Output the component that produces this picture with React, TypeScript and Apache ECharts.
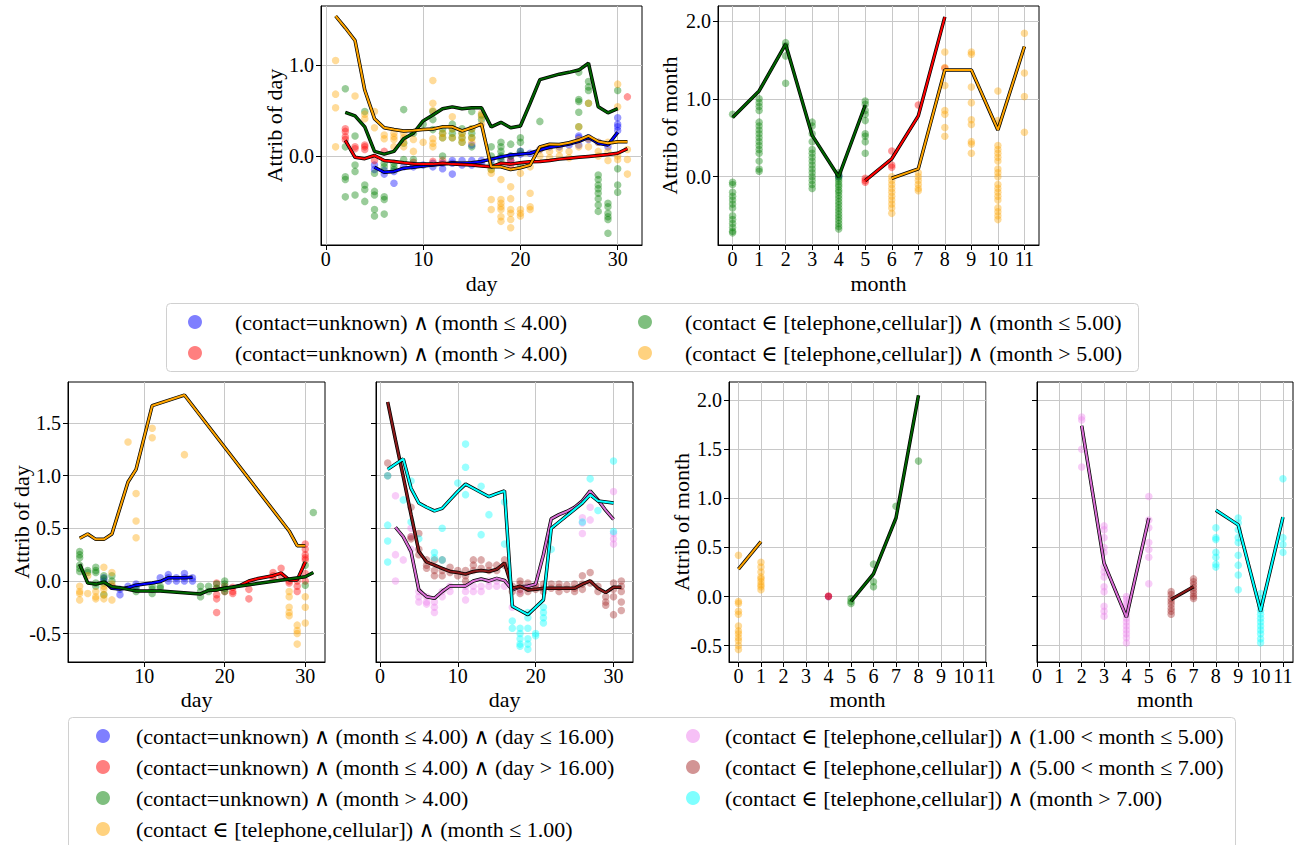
import React, { useEffect, useRef } from 'react';
import * as echarts from 'echarts';

const FONT = '"Liberation Serif", "DejaVu Serif", serif';

// ---------- legend labels ----------
const topNames = [
  '(contact=unknown) ∧ (month ≤ 4.00)',
  '(contact=unknown) ∧ (month > 4.00)',
  '(contact ∈ [telephone,cellular]) ∧ (month ≤ 5.00)',
  '(contact ∈ [telephone,cellular]) ∧ (month > 5.00)',
];
const botNames = [
  '(contact=unknown) ∧ (month ≤ 4.00) ∧ (day ≤ 16.00)',
  '(contact=unknown) ∧ (month ≤ 4.00) ∧ (day > 16.00)',
  '(contact=unknown) ∧ (month > 4.00)',
  '(contact ∈ [telephone,cellular]) ∧ (month ≤ 1.00)',
  '(contact ∈ [telephone,cellular]) ∧ (1.00 < month ≤ 5.00)',
  '(contact ∈ [telephone,cellular]) ∧ (5.00 < month ≤ 7.00)',
  '(contact ∈ [telephone,cellular]) ∧ (month > 7.00)',
];

// ---------- tick values ----------
const dayTicksA = [0, 10, 20, 30];
const dayTicksB = [10, 20, 30];
const monthTicks = [0, 1, 2, 3, 4, 5, 6, 7, 8, 9, 10, 11];
const yTicksTL = [0, 1];
const yTicksTR = [0, 1, 2];
const yTicksBL = [-0.5, 0, 0.5, 1, 1.5];
const yTicksBR = [-0.5, 0, 0.5, 1, 1.5, 2];

type Pts = [number, number[]][];
type Curve = [number, number][];

// ---------- plot 1 : top-left (day) ----------
const p1BluePts: Pts = [[5,[-0.1,-0.15]],[6,[-0.16,-0.2]],[7,[-0.3,-0.17]],[8,[-0.12]],[9,[-0.12,-0.1]],[10,[-0.1]],[11,[-0.08,-0.12]],[12,[-0.14,-0.08]],[13,[-0.05,-0.2,-0.08]],[14,[-0.1,-0.05]],[15,[-0.1,-0.05,0.12]],[16,[-0.05,-0.08]],[17,[-0.05]],[18,[-0.02]],[19,[0.0,-0.05]],[20,[0.05,0.02]],[21,[0.03]],[22,[0.07]],[23,[0.1]],[24,[0.1]],[25,[0.12]],[26,[0.22,0.2,0.12]],[27,[0.2,0.18]],[28,[0.15]],[29,[0.1]],[30,[0.42,0.35,0.32,0.28]]];
const p1BlueLine: Curve = [[5,-0.125],[6,-0.18],[7,-0.17],[8,-0.135],[9,-0.125],[10,-0.11],[11,-0.1],[12,-0.09],[13,-0.075],[14,-0.08],[15,-0.075],[16,-0.06],[17,-0.035],[18,-0.01],[19,0.01],[20,0.02],[21,0.03],[22,0.065],[23,0.095],[24,0.11],[25,0.13],[26,0.16],[27,0.205],[28,0.14],[29,0.12],[30,0.26]];
const p1RedPts: Pts = [[2,[0.3,0.27,0.21,0.18]],[3,[0.1,0.08]],[4,[0.12,0.1,0.07]],[5,[-0.05]],[6,[0.05]],[9,[-0.07]],[11,[-0.06]],[12,[-0.05]],[19,[-0.05,-0.1]],[31,[0.65]]];
const p1RedLine: Curve = [[2,0.17],[3,-0.015],[4,-0.03],[5,0.005],[6,-0.05],[7,-0.06],[8,-0.075],[9,-0.085],[10,-0.09],[11,-0.09],[12,-0.08],[13,-0.09],[14,-0.095],[15,-0.1],[16,-0.11],[17,-0.12],[18,-0.08],[19,-0.09],[20,-0.075],[21,-0.065],[22,-0.06],[23,-0.05],[24,-0.035],[25,-0.025],[26,-0.015],[27,-0.005],[28,0.005],[29,0.015],[30,0.03],[31,0.08]];
const p1GreenPts: Pts = [[2,[0.74,0.1,-0.23,-0.26,-0.45]],[3,[0.22,-0.1,-0.17,-0.43]],[4,[0.49,-0.32,-0.37,-0.5]],[5,[-0.19,-0.39,-0.43,-0.59,-0.66]],[6,[-0.08,-0.12,-0.45,-0.48,-0.64]],[7,[-0.08,-0.12,-0.15]],[8,[0.51,0.14,-0.04]],[9,[0.25,-0.04]],[10,[0.35]],[11,[0.49,0.4,0.29]],[12,[0.3,0.25,0.2,0.0]],[13,[0.35,0.3,0.25,0.2]],[14,[0.3,0.25,0.2,0.15]],[15,[0.49,0.3,0.25,0.2,0.1]],[16,[0.45,0.4]],[17,[0.1,0.0,-0.1,-0.15]],[18,[0.15,0.1,0.05,0.0,-0.05]],[19,[0.13,0.0]],[20,[0.2,0.15,0.05,-0.1]],[22,[0.38]],[26,[0.92,0.62,0.6,0.48,0.32]],[27,[0.82,0.76,0.72,0.58]],[28,[-0.21,-0.26,-0.32,-0.36,-0.41,-0.47,-0.54,-0.61]],[29,[-0.52,-0.56,-0.63,-0.67,-0.7,-0.85]],[30,[0.72,-0.14,-0.32,-0.4]]];
const p1GreenLine: Curve = [[2,0.48],[3,0.44],[4,0.32],[5,0.05],[6,0.02],[7,0.05],[8,0.19],[9,0.25],[10,0.385],[11,0.45],[12,0.52],[13,0.54],[14,0.52],[15,0.53],[16,0.53],[17,0.32],[18,0.37],[19,0.31],[20,0.33],[21,0.58],[22,0.84],[23,0.87],[24,0.9],[25,0.92],[26,0.945],[27,1.02],[28,0.54],[29,0.475],[30,0.52]];
const p1OrangePts: Pts = [[1,[1.05,0.68,0.53,0.1]],[3,[0.66]],[4,[0.46,0.41]],[5,[0.49,0.31]],[6,[0.23,0.19]],[7,[0.25,0.21,0.18,0.1]],[8,[0.25,0.2,0.15,0.1]],[9,[0.18,0.05]],[10,[0.15]],[11,[0.83,0.58,0.5,0.19,0.14,0.1]],[12,[0.25,0.2]],[13,[0.43,0.3,0.2]],[14,[0.25,0.2,0.15]],[15,[0.3,0.2,0.15]],[16,[0.47,0.43,0.35]],[17,[-0.15,-0.19,-0.48,-0.59]],[18,[-0.26,-0.48,-0.52,-0.56,-0.59,-0.67,-0.72]],[19,[-0.34,-0.47,-0.59,-0.63,-0.7,-0.79]],[20,[-0.19,-0.59,-0.63,-0.66]],[21,[-0.12,-0.41,-0.56,-0.59]],[22,[0.07,0.0]],[23,[0.05,-0.02]],[24,[0.07,0.0]],[25,[0.05,-0.02]],[26,[0.32,0.18,0.1]],[27,[0.58,0.19,0.1]],[28,[0.15,0.05,0.0]],[29,[0.15,0.05,-0.05]],[30,[0.79,0.54,0.0,-0.04]],[31,[0.07,-0.04,-0.2]]];
const p1OrangeLine: Curve = [[1,1.54],[2,1.41],[3,1.27],[4,0.725],[5,0.41],[6,0.31],[7,0.29],[8,0.275],[9,0.28],[10,0.29],[11,0.297],[12,0.32],[13,0.32],[14,0.275],[15,0.31],[16,0.35],[17,-0.12],[18,-0.12],[19,-0.15],[20,-0.13],[21,-0.1],[22,0.1],[23,0.13],[24,0.125],[25,0.145],[26,0.175],[27,0.22],[28,0.16],[29,0.14],[30,0.155],[31,0.155]];

// ---------- plot 2 : top-right (month) ----------
const p2BluePts: Pts = [[4,[0.0,0.02]]];
const p2BlueLine: Curve = [[4,0.0]];
const p2RedPts: Pts = [[5,[-0.02,-0.05,-0.07]],[6,[0.33,0.15,0.12]],[7,[0.92]],[8,[1.39]]];
const p2RedLine: Curve = [[5,-0.05],[6,0.23],[7,0.78],[8,2.05]];
const p2GreenPts: Pts = [[0,[0.8,-0.07,-0.1,-0.2,-0.25,-0.3,-0.35,-0.4,-0.5,-0.55,-0.6,-0.65,-0.7,-0.72]],[1,[1.0,0.95,0.9,0.85,0.7,0.65,0.6,0.55,0.5,0.45,0.4,0.35,0.3,0.2,0.1,0.07]],[2,[1.72,1.68,1.55,1.2]],[3,[0.7,0.65,0.55,0.45,0.35,0.3,0.25,0.2,0.15,0.1,0.05,0.0,-0.05,-0.1,-0.15]],[4,[0.05,0.02,0.0,-0.03,-0.06,-0.1,-0.13,-0.17,-0.2,-0.24,-0.28,-0.32,-0.36,-0.4,-0.44,-0.48,-0.52,-0.56,-0.6,-0.64,-0.67]],[5,[0.97,0.93,0.85,0.8,0.72,0.55,0.52,0.45,0.3]]];
const p2GreenLine: Curve = [[0,0.76],[1,1.1],[2,1.7],[3,0.53],[4,0.0],[5,0.92]];
const p2OrangePts: Pts = [[6,[0.0,-0.05,-0.1,-0.15,-0.2,-0.25,-0.3,-0.35,-0.4,-0.47]],[7,[0.05,0.0,-0.05,-0.1,-0.15,-0.18]],[8,[1.6,1.4,1.17,0.85,0.8,0.63,0.52]],[9,[1.6,1.57,1.15,0.95,0.73,0.67,0.45,0.42,0.3]],[10,[1.1,0.72,0.68,0.4,0.35,0.3,0.25,0.2,0.1,0.05,0.0,-0.1,-0.15,-0.2,-0.25,-0.3,-0.4,-0.45,-0.5,-0.55]],[11,[1.84,1.33,1.03,0.57]]];
const p2OrangeLine: Curve = [[6,-0.02],[7,0.1],[8,1.37],[9,1.37],[10,0.6],[11,1.67]];

// ---------- plot 3 : bottom, day (unknown groups + month<=1) ----------
const p3BluePts: Pts = [[5,[0.03,0.0]],[6,[-0.05]],[7,[-0.13,-0.08]],[8,[-0.05]],[9,[-0.03,-0.05]],[12,[0.03]],[13,[0.06,0.03,0.0]],[14,[0.03,0.0]],[15,[0.07,0.03,0.0]],[16,[0.03,0.0]]];
const p3BlueLine: Curve = [[5,-0.005],[6,-0.07],[7,-0.076],[8,-0.063],[9,-0.04],[10,-0.03],[11,-0.02],[12,-0.006],[13,0.03],[14,0.03],[15,0.03],[16,0.035]];
const p3RedPts: Pts = [[19,[-0.02,-0.07,-0.13,-0.17,-0.3]],[20,[-0.05,-0.1]],[21,[-0.06,-0.1,-0.12]],[23,[-0.08,-0.17]],[26,[0.08,0.05,0.02]],[27,[0.12,0.05]],[28,[0.0,-0.02]],[29,[0.0,-0.05,-0.1]],[30,[0.35,0.3,0.25,0.22,0.2,0.07,0.0]]];
const p3RedLine: Curve = [[18,-0.09],[19,-0.08],[20,-0.07],[21,-0.06],[22,-0.04],[23,0.0],[24,0.02],[25,0.035],[26,0.05],[27,0.075],[28,0.01],[29,0.01],[30,0.18]];
const p3GreenPts: Pts = [[2,[0.28,0.25,0.22,0.15,0.12,0.09]],[3,[0.1,0.08]],[4,[0.13,0.1,0.08,-0.02,-0.05]],[5,[0.05,0.02,-0.02,-0.13]],[6,[0.05,0.0]],[9,[-0.07,-0.1]],[11,[-0.05,-0.08,-0.12]],[12,[-0.05,-0.07]],[17,[-0.05,-0.1,-0.15]],[18,[-0.05,-0.1]],[19,[-0.03,-0.07]],[20,[0.0,-0.03,-0.07,-0.1]],[30,[0.15,-0.04]],[31,[0.65]]];
const p3GreenLine: Curve = [[2,0.16],[3,-0.02],[4,-0.03],[5,-0.012],[6,-0.055],[7,-0.065],[8,-0.08],[9,-0.095],[11,-0.095],[12,-0.095],[17,-0.123],[18,-0.09],[19,-0.085],[20,-0.07],[30,0.04],[31,0.08]];
const p3OrangePts: Pts = [[2,[-0.05,-0.1,-0.12,-0.18]],[3,[0.05,-0.12]],[4,[-0.1,-0.15,-0.17]],[5,[0.13,-0.05,-0.08,-0.13,-0.17]],[6,[0.08,-0.03,-0.05,-0.18]],[8,[1.32]],[9,[0.83,0.57,0.41]],[11,[1.45,1.36]],[15,[1.2]],[28,[-0.1,-0.15,-0.25,-0.3,-0.33]],[29,[-0.42,-0.47,-0.5,-0.6]],[30,[-0.15,-0.25,-0.4]]];
const p3OrangeLine: Curve = [[2,0.405],[3,0.446],[4,0.395],[5,0.395],[6,0.446],[8,0.94],[9,1.06],[11,1.665],[15,1.766],[28,0.475],[29,0.335],[30,0.335]];

// ---------- plot 4 : bottom, day (telephone/cellular groups) ----------
const p4VioletPts: Pts = [[2,[0.81,0.25,0.0]],[3,[0.2]],[4,[0.5,0.42,0.3]],[5,[-0.1,-0.15,-0.2]],[6,[-0.15,-0.2,-0.22]],[7,[-0.2,-0.25,-0.3]],[8,[-0.1,-0.15]],[9,[-0.05,-0.1]],[11,[-0.05,-0.1,-0.18]],[12,[-0.05,-0.1]],[13,[-0.05,-0.1]],[14,[0.0,-0.05]],[15,[0.0,-0.05]],[16,[-0.05]],[17,[-0.25]],[18,[-0.1]],[19,[-0.05]],[20,[-0.05]],[26,[0.6,0.55,0.45]],[27,[0.7,0.58]],[30,[0.85,0.45,0.4,0.35]]];
const p4VioletLine: Curve = [[2,0.51],[3,0.42],[4,0.28],[5,-0.085],[6,-0.15],[7,-0.165],[8,-0.1],[9,-0.047],[10,-0.047],[11,-0.047],[12,0.0],[13,0.02],[14,0.0],[15,0.025],[16,0.005],[17,-0.085],[18,-0.055],[19,-0.05],[20,-0.03],[21,0.25],[22,0.59],[23,0.63],[24,0.66],[25,0.7],[26,0.76],[27,0.855],[28,0.77],[29,0.67],[30,0.585]];
const p4BrownPts: Pts = [[1,[1.12,1.0]],[4,[0.7,0.42,0.4]],[5,[0.45,0.3,0.25]],[6,[0.2,0.15,0.12]],[7,[0.2,0.1,0.05]],[8,[0.2,0.1,0.05]],[9,[0.13,0.08]],[10,[0.1,0.05]],[11,[0.1,0.05,0.0]],[12,[0.2,0.15,0.1]],[13,[0.2,0.12]],[14,[0.15,0.1]],[15,[0.15,0.1]],[16,[0.2,0.15]],[17,[-0.05,-0.1]],[18,[0.0,-0.03,-0.08,-0.12]],[19,[-0.02,-0.07,-0.1]],[20,[-0.04,-0.08]],[21,[-0.03,-0.07,-0.1]],[22,[-0.03,-0.07]],[23,[-0.03,-0.06,-0.1]],[24,[-0.04,-0.08]],[25,[-0.03,-0.07,-0.1]],[26,[0.05,-0.03,-0.08]],[27,[0.08,-0.02]],[28,[-0.05,-0.1]],[29,[-0.15,-0.2,-0.23]],[30,[-0.02,-0.08,-0.15,-0.32]],[31,[0.0,-0.05,-0.1,-0.2,-0.28]]];
const p4BrownLine: Curve = [[1,1.7],[2,1.34],[3,0.99],[4,0.63],[5,0.28],[6,0.18],[7,0.15],[8,0.12],[9,0.09],[10,0.08],[11,0.065],[12,0.09],[13,0.1],[14,0.09],[15,0.11],[16,0.17],[17,-0.07],[18,-0.05],[19,-0.085],[20,-0.08],[21,-0.07],[22,-0.07],[23,-0.07],[24,-0.07],[25,-0.07],[26,-0.03],[27,0.0],[28,-0.07],[29,-0.11],[30,-0.06],[31,-0.06]];
const p4CyanPts: Pts = [[1,[1.0,0.53,0.38,0.18]],[3,[0.77]],[4,[0.95,0.56]],[5,[0.4]],[7,[0.27,0.22]],[8,[0.5,0.2]],[10,[0.93]],[11,[1.3,1.08,0.82]],[13,[0.9,0.44]],[14,[0.63]],[16,[0.75,0.35]],[17,[-0.38,-0.45]],[18,[-0.45,-0.5,-0.55,-0.6,-0.62]],[19,[-0.3,-0.35,-0.45,-0.55,-0.6,-0.65]],[20,[-0.5,-0.52]],[21,[-0.25,-0.3,-0.35,-0.4]],[22,[0.3]],[26,[0.56]],[27,[0.97]],[28,[0.67]],[30,[1.14,0.47]]];
const p4CyanLine: Curve = [[1,1.06],[2,1.11],[3,1.16],[4,0.88],[5,0.74],[6,0.7],[7,0.665],[8,0.69],[9,0.77],[10,0.85],[11,0.92],[12,0.88],[13,0.84],[14,0.8],[15,0.83],[16,0.855],[17,-0.24],[18,-0.28],[19,-0.32],[20,-0.25],[21,-0.18],[22,0.5],[23,0.56],[24,0.62],[25,0.68],[26,0.74],[27,0.82],[28,0.76],[29,0.75],[30,0.74]];

// ---------- plot 5 : bottom, month (unknown groups + month<=1) ----------
const p5BluePts: Pts = [[4,[0.0]]];
const p5BlueLine: Curve = [[4,0.0]];
const p5RedPts: Pts = [[4,[0.0,0.005]]];
const p5RedLine: Curve = [[4,0.0]];
const p5GreenPts: Pts = [[5,[-0.02,-0.05,-0.07]],[6,[0.33,0.15,0.1]],[7,[0.92]],[8,[1.38]]];
const p5GreenLine: Curve = [[5,-0.05],[6,0.23],[7,0.8],[8,2.05]];
const p5OrangePts: Pts = [[0,[0.42,-0.05,-0.07,-0.15,-0.18,-0.3,-0.35,-0.38,-0.42,-0.45,-0.5,-0.54]],[1,[0.35,0.3,0.25,0.2,0.18,0.15,0.12,0.1,0.07]]];
const p5OrangeLine: Curve = [[0,0.28],[1,0.56]];

// ---------- plot 6 : bottom, month (telephone/cellular groups) ----------
const p6VioletPts: Pts = [[2,[1.83,1.8,1.5,1.32]],[3,[0.72,0.68,0.6,0.5,0.45,0.3,0.25,0.2,0.1,0.05,-0.1,-0.15,-0.2]],[4,[0.0,-0.03,-0.07,-0.1,-0.14,-0.18,-0.22,-0.26,-0.3,-0.34,-0.38,-0.42,-0.47]],[5,[1.02,0.78,0.7,0.55,0.48,0.4,0.13]]];
const p6VioletLine: Curve = [[2,1.74],[3,0.34],[4,-0.21],[5,0.8]];
const p6BrownPts: Pts = [[6,[0.05,0.02,-0.02,-0.05,-0.08,-0.12,-0.15,-0.18]],[7,[0.18,0.15,0.12,0.09,0.06,0.03,0.0,-0.02]]];
const p6BrownLine: Curve = [[6,-0.03],[7,0.1]];
const p6CyanPts: Pts = [[8,[0.7,0.6,0.58,0.45,0.4,0.33,0.3]],[9,[0.8,0.75,0.68,0.6,0.55,0.42,0.32,0.22,0.07]],[10,[0.03,-0.02,-0.06,-0.1,-0.14,-0.18,-0.22,-0.26,-0.3,-0.34,-0.38,-0.43,-0.47]],[11,[1.2,0.6,0.53,0.45]]];
const p6CyanLine: Curve = [[8,0.88],[9,0.73],[10,-0.15],[11,0.81]];

// ---------- colours ----------
const DOT = {
  blue: 'rgba(0,0,255,0.5)', red: 'rgba(255,0,0,0.5)', green: 'rgba(0,128,0,0.5)', orange: 'rgba(255,165,0,0.5)',
  violet: 'rgba(238,130,238,0.5)', brown: 'rgba(165,42,42,0.5)', cyan: 'rgba(0,255,255,0.5)',
};
const LINE = {
  blue: '#0000ff', red: '#ff0000', green: '#006400', orange: '#ffa500',
  violet: '#da70d6', brown: '#8b1a1a', cyan: '#00ffff',
};
const topKeys: (keyof typeof DOT)[] = ['blue', 'red', 'green', 'orange'];
const botKeys: (keyof typeof DOT)[] = ['blue', 'red', 'green', 'orange', 'violet', 'brown', 'cyan'];

function flat(p: Pts): [number, number][] {
  const out: [number, number][] = [];
  p.forEach(([x, ys]) => ys.forEach((y) => out.push([x, y])));
  return out;
}

type Group = { g: number; name: string; key: keyof typeof DOT; pts: Pts; curve: Curve };
const groups: Group[] = [
  { g: 0, name: topNames[0], key: 'blue', pts: p1BluePts, curve: p1BlueLine },
  { g: 0, name: topNames[1], key: 'red', pts: p1RedPts, curve: p1RedLine },
  { g: 0, name: topNames[2], key: 'green', pts: p1GreenPts, curve: p1GreenLine },
  { g: 0, name: topNames[3], key: 'orange', pts: p1OrangePts, curve: p1OrangeLine },
  { g: 1, name: topNames[0], key: 'blue', pts: p2BluePts, curve: p2BlueLine },
  { g: 1, name: topNames[1], key: 'red', pts: p2RedPts, curve: p2RedLine },
  { g: 1, name: topNames[2], key: 'green', pts: p2GreenPts, curve: p2GreenLine },
  { g: 1, name: topNames[3], key: 'orange', pts: p2OrangePts, curve: p2OrangeLine },
  { g: 2, name: botNames[0], key: 'blue', pts: p3BluePts, curve: p3BlueLine },
  { g: 2, name: botNames[1], key: 'red', pts: p3RedPts, curve: p3RedLine },
  { g: 2, name: botNames[2], key: 'green', pts: p3GreenPts, curve: p3GreenLine },
  { g: 2, name: botNames[3], key: 'orange', pts: p3OrangePts, curve: p3OrangeLine },
  { g: 3, name: botNames[4], key: 'violet', pts: p4VioletPts, curve: p4VioletLine },
  { g: 3, name: botNames[5], key: 'brown', pts: p4BrownPts, curve: p4BrownLine },
  { g: 3, name: botNames[6], key: 'cyan', pts: p4CyanPts, curve: p4CyanLine },
  { g: 4, name: botNames[0], key: 'blue', pts: p5BluePts, curve: p5BlueLine },
  { g: 4, name: botNames[1], key: 'red', pts: p5RedPts, curve: p5RedLine },
  { g: 4, name: botNames[2], key: 'green', pts: p5GreenPts, curve: p5GreenLine },
  { g: 4, name: botNames[3], key: 'orange', pts: p5OrangePts, curve: p5OrangeLine },
  { g: 5, name: botNames[4], key: 'violet', pts: p6VioletPts, curve: p6VioletLine },
  { g: 5, name: botNames[5], key: 'brown', pts: p6BrownPts, curve: p6BrownLine },
  { g: 5, name: botNames[6], key: 'cyan', pts: p6CyanPts, curve: p6CyanLine },
];

type AxSpec = {
  box: [number, number, number, number];
  x: { min: number; max: number; ticks: number[]; name: string; gap: number; margin: number };
  y: { min: number; max: number; ticks: number[]; name: string; labels: boolean; gap: number };
};
const panels: AxSpec[] = [
  { box: [321, 6, 321, 239], x: { min: -0.5, max: 32.5, ticks: dayTicksA, name: 'day', gap: 27, margin: 4 }, y: { min: -0.98, max: 1.65, ticks: yTicksTL, name: 'Attrib of day', labels: true, gap: 36 } },
  { box: [718, 6, 321, 239], x: { min: -0.55, max: 11.55, ticks: monthTicks, name: 'month', gap: 27, margin: 4 }, y: { min: -0.876, max: 2.19, ticks: yTicksTR, name: 'Attrib of month', labels: true, gap: 38 } },
  { box: [68, 382, 257, 280], x: { min: 0.55, max: 32.45, ticks: dayTicksB, name: 'day', gap: 26, margin: 4 }, y: { min: -0.77, max: 1.89, ticks: yTicksBL, name: 'Attrib of day', labels: true, gap: 36 } },
  { box: [376, 382, 257, 280], x: { min: -0.5, max: 32.5, ticks: dayTicksA, name: 'day', gap: 26, margin: 4 }, y: { min: -0.77, max: 1.89, ticks: yTicksBL, name: '', labels: false, gap: 36 } },
  { box: [729, 382, 257, 280], x: { min: -0.42, max: 11, ticks: monthTicks, name: 'month', gap: 26, margin: 4 }, y: { min: -0.667, max: 2.186, ticks: yTicksBR, name: 'Attrib of month', labels: true, gap: 37 } },
  { box: [1037, 382, 256, 280], x: { min: 0, max: 11.45, ticks: monthTicks, name: 'month', gap: 26, margin: 4 }, y: { min: -0.667, max: 2.186, ticks: yTicksBR, name: '', labels: false, gap: 37 } },
];

function buildOption() {
  const tickText = { fontFamily: FONT, fontSize: 20, lineHeight: 20, color: '#000' };
  const nameText = { fontFamily: FONT, fontSize: 22, lineHeight: 22, color: '#000' };
  const grid = panels.map((p) => ({
    left: p.box[0], top: p.box[1], width: p.box[2], height: p.box[3],
    show: true, borderColor: '#000', borderWidth: 1, backgroundColor: 'transparent',
  }));
  const xAxis = panels.map((p, i) => ({
    type: 'value', gridIndex: i, min: p.x.min, max: p.x.max,
    name: p.x.name, nameLocation: 'middle', nameGap: p.x.gap, nameMoveOverlap: false, nameTextStyle: { ...nameText },
    axisLine: { show: true, onZero: false, lineStyle: { color: '#000', width: 1 } },
    axisTick: { show: true, inside: false, length: 5, customValues: p.x.ticks, lineStyle: { color: '#000' } },
    axisLabel: { show: true, customValues: p.x.ticks, margin: p.x.margin, ...tickText, formatter: (v: number) => String(v) },
    splitLine: { show: true, lineStyle: { color: '#c8c8c8', width: 1 } },
  }));
  const yAxis = panels.map((p, i) => ({
    type: 'value', gridIndex: i, min: p.y.min, max: p.y.max,
    name: p.y.name, nameLocation: 'middle', nameGap: p.y.gap, nameRotate: 90, nameMoveOverlap: false, nameTextStyle: { ...nameText },
    axisLine: { show: true, onZero: false, lineStyle: { color: '#000', width: 1 } },
    axisTick: { show: true, inside: false, length: 5, customValues: p.y.ticks, lineStyle: { color: '#000' } },
    axisLabel: { show: p.y.labels, customValues: p.y.ticks, margin: 7, ...tickText, formatter: (v: number) => v.toFixed(1) },
    splitLine: { show: true, lineStyle: { color: '#c8c8c8', width: 1 } },
  }));

  const scatters: any[] = [];
  const lines: any[] = [];
  groups.forEach((gr, idx) => {
    scatters.push({
      type: 'scatter', name: gr.name, xAxisIndex: gr.g, yAxisIndex: gr.g,
      data: flat(gr.pts), symbol: 'circle', symbolSize: 7.5,
      itemStyle: { color: DOT[gr.key], borderWidth: 0 }, z: 2,
    });
    lines.push({
      type: 'line', name: 'outline ' + idx, xAxisIndex: gr.g, yAxisIndex: gr.g,
      data: gr.curve, showSymbol: false, symbol: 'none',
      lineStyle: { color: '#000', width: 3.5 }, z: 3,
    });
    lines.push({
      type: 'line', name: 'curve ' + idx, xAxisIndex: gr.g, yAxisIndex: gr.g,
      data: gr.curve, showSymbol: false, symbol: 'none',
      lineStyle: { color: LINE[gr.key], width: 2 }, z: 3,
    });
  });

  const legendBase = {
    orient: 'vertical', icon: 'circle', itemWidth: 14, itemHeight: 14, itemGap: 9,
    selectedMode: false, padding: 0,
  };
  const item = (name: string, key: keyof typeof DOT) => ({ name, icon: 'circle', itemStyle: { color: DOT[key], opacity: 1 } });
  const lgText = { fontFamily: FONT, fontSize: 22, color: '#000', lineHeight: 22 };
  const legend = [
    { ...legendBase, left: 188, top: 311, data: [item(topNames[0], topKeys[0]), item(topNames[1], topKeys[1])], textStyle: { ...lgText, padding: [0, 0, 0, 28] } },
    { ...legendBase, left: 638, top: 311, data: [item(topNames[2], topKeys[2]), item(topNames[3], topKeys[3])], textStyle: { ...lgText, padding: [0, 0, 0, 28] } },
    { ...legendBase, left: 96, top: 725, data: [0, 1, 2, 3].map((i) => item(botNames[i], botKeys[i])), textStyle: { ...lgText, padding: [0, 0, 0, 21] } },
    { ...legendBase, left: 686, top: 725, data: [4, 5, 6].map((i) => item(botNames[i], botKeys[i])), textStyle: { ...lgText, padding: [0, 0, 0, 20] } },
  ];

  const graphic = [
    { type: 'rect', left: 166, top: 303, shape: { width: 972, height: 68, r: 4 }, style: { fill: '#fff', stroke: '#d0d0d0', lineWidth: 1 }, z: -1 },
    { type: 'rect', left: 68, top: 717, shape: { width: 1167, height: 140, r: 4 }, style: { fill: '#fff', stroke: '#d0d0d0', lineWidth: 1 }, z: -1 },
  ];

  return {
    animation: false,
    backgroundColor: '#fff',
    grid, xAxis, yAxis, legend, graphic,
    series: [...scatters, ...lines],
  };
}

export default function App() {
  const ref = useRef<HTMLDivElement>(null);
  useEffect(() => {
    document.body.style.margin = '0';
    if (!ref.current) return;
    const chart = echarts.init(ref.current, undefined, { renderer: 'svg' });
    chart.setOption(buildOption() as any);
    return () => chart.dispose();
  }, []);
  return <div ref={ref} style={{ width: 1297, height: 845 }} />;
}
